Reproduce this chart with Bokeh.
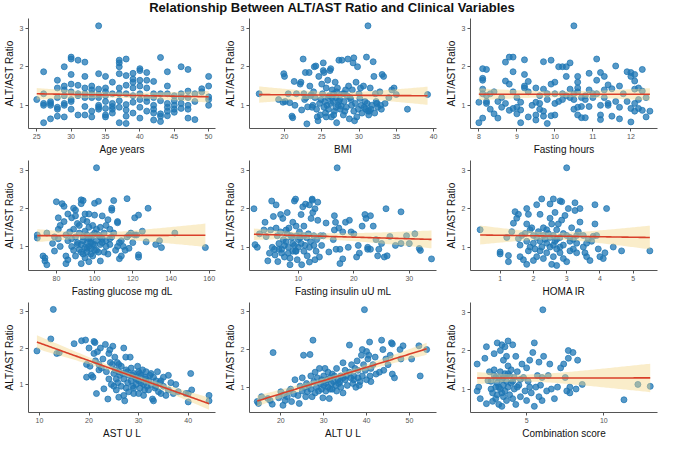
import numpy as np
from bokeh.plotting import figure
from bokeh.layouts import gridplot, column
from bokeh.models import Div, FixedTicker
from bokeh.embed import file_html
from bokeh.resources import INLINE

# ---- data (x, ALT/AST ratio) ----
age_x = [25, 26, 26, 26, 26, 26, 27, 27, 27, 27, 28, 28, 28, 28, 28, 28, 29, 29, 29, 29, 29, 29, 29,
         30, 30, 30, 30, 30, 30, 30, 30, 31, 31, 31, 31, 31, 32, 32, 32, 32, 32, 32, 32, 33, 33, 33, 33, 33, 33,
         34, 34, 34, 34, 34, 34, 34, 34, 35, 35, 35, 35, 35, 35, 35, 35, 36, 36, 36, 36, 36, 36,
         37, 37, 37, 37, 37, 37, 37, 37, 37, 38, 38, 38, 38, 38, 38, 38, 38, 39, 39, 39, 39, 39, 39, 39,
         40, 40, 40, 40, 40, 40, 40, 40, 41, 41, 41, 41, 41, 41, 42, 42, 42, 42, 42, 42, 42,
         43, 43, 43, 43, 43, 43, 44, 44, 44, 44, 44, 44, 44, 45, 45, 45, 45, 45, 46, 46, 46, 46, 46,
         47, 47, 47, 47, 47, 47, 48, 48, 48, 49, 49, 50, 50, 50, 50, 50]
age_y = [1.15, 1.87, 1.3, 1.05, 1.0, 0.55, 1.1, 1.05, 1.0, 0.65, 1.65, 1.45, 1.2, 0.95, 0.9, 0.72,
         2.0, 1.5, 1.4, 1.25, 1.05, 1.0, 0.7, 2.25, 2.2, 1.8, 1.55, 1.35, 1.15, 1.1, 0.9,
         2.17, 1.52, 1.3, 1.25, 0.75, 2.12, 1.75, 1.45, 1.3, 1.2, 0.97, 0.75, 1.5, 1.4, 1.3, 1.2, 0.85, 0.7,
         3.06, 1.82, 1.42, 1.28, 1.2, 1.0, 0.95, 0.9, 1.75, 1.45, 1.35, 1.25, 1.1, 0.92, 0.75, 0.7,
         1.6, 1.3, 1.05, 0.97, 0.9, 0.8, 2.17, 2.1, 2.0, 1.82, 1.45, 1.3, 1.12, 0.95, 0.55,
         2.2, 1.77, 1.52, 1.3, 1.02, 0.88, 0.72, 0.53, 1.83, 1.68, 1.6, 1.45, 1.25, 1.08, 0.8,
         1.95, 1.9, 1.65, 1.5, 1.3, 1.15, 0.95, 0.67, 1.85, 1.65, 1.45, 1.2, 1.1, 0.85,
         1.62, 1.3, 1.2, 1.0, 0.9, 0.8, 0.62, 2.24, 1.3, 1.12, 0.78, 0.72, 0.58,
         1.87, 1.5, 1.3, 1.05, 0.95, 0.85, 0.73, 1.25, 1.12, 1.0, 0.9, 0.82, 2.0, 1.3, 1.2, 1.05, 0.92,
         1.93, 1.37, 1.2, 1.0, 0.9, 0.67, 1.3, 1.1, 0.63, 1.43, 1.35, 1.75, 1.5, 1.22, 1.15, 1.0]

bmi_x = [16.6, 19.2, 19.8, 19.9, 20.0, 20.1, 20.5, 20.7, 21.0, 21.1, 21.3, 21.4, 21.6, 22.1, 22.2, 22.3,
         22.5, 22.6, 22.8, 22.9, 23.0, 23.1, 23.3, 23.4, 23.5, 23.6, 23.8, 23.9, 24.0, 24.2, 24.3, 24.4,
         24.5, 24.6, 24.7, 24.8, 25.0, 25.1, 25.2, 25.2, 25.3, 25.4, 25.5, 25.6, 25.7, 25.8, 25.9, 26.0,
         26.1, 26.2, 26.3, 26.4, 26.5, 26.6, 26.7, 26.8, 26.9, 27.0, 27.1, 27.2, 27.3, 27.4, 27.5, 27.7,
         27.8, 27.9, 28.0, 28.2, 28.3, 28.5, 28.6, 28.7, 28.8, 29.0, 29.1, 29.2, 29.3, 29.4, 29.5, 29.6,
         29.8, 29.9, 30.0, 30.2, 30.4, 30.6, 30.8, 31.0, 31.1, 31.2, 31.3, 31.5, 31.7, 31.9, 32.0, 32.2,
         32.5, 32.8, 33.0, 33.1, 33.3, 33.5, 34.0, 34.4, 34.7, 35.0, 36.5, 39.2,
         25.3, 25.8, 26.2, 26.6, 27.0, 27.6, 28.1, 28.9, 29.7, 30.3, 30.9, 26.4, 27.3, 28.4, 29.3, 25.6,
         24.9, 26.9, 28.0, 30.1, 31.4, 32.3, 24.1, 22.7, 23.7,
         31.2, 31.6, 32.1, 32.4, 30.7, 32.9]
bmi_y = [1.3, 1.15, 1.08, 1.82, 1.75, 1.1, 1.3, 1.07, 0.72, 0.68, 1.62, 1.0, 1.3, 1.55, 1.6, 0.88,
         2.2, 1.3, 1.85, 1.2, 0.52, 0.96, 1.85, 1.5, 1.25, 1.28, 1.0, 1.35, 2.0, 2.02, 0.9, 0.7,
         0.6, 1.75, 1.05, 0.75, 1.55, 1.3, 1.9, 2.1, 1.85, 1.1, 0.8, 1.45, 1.0, 1.65, 0.9, 1.25,
         1.9, 1.95, 0.7, 1.4, 1.1, 1.3, 0.85, 1.6, 1.2, 0.55, 1.45, 1.0, 2.17, 1.15, 0.9, 2.17,
         1.3, 0.75, 1.1, 1.4, 0.95, 2.2, 1.5, 0.65, 1.2, 1.0, 1.4, 2.1, 2.23, 0.6, 1.05, 1.6,
         2.0, 0.9, 1.3, 1.45, 0.8, 1.5, 1.1, 2.25, 1.05, 3.06, 0.75, 1.45, 1.0, 2.13, 1.75, 1.3,
         0.95, 1.35, 0.9, 1.8, 1.75, 1.05, 1.2, 1.4, 1.45, 1.28, 0.9, 1.28,
         0.95, 1.2, 1.05, 0.75, 1.35, 0.98, 0.85, 1.15, 0.7, 1.0, 0.9, 1.2, 1.1, 1.25, 0.85, 0.7,
         1.15, 0.95, 1.3, 1.18, 0.85, 1.1, 1.2, 1.15, 0.95,
         0.85, 0.9, 0.8, 1.05, 0.95, 1.0]

hours_x = [8.0, 8.0, 8.1, 8.1, 8.1, 8.1, 8.1, 8.1, 8.2, 8.2, 8.2, 8.2, 8.3, 8.3, 8.4, 8.4, 8.5, 8.6, 8.6,
           8.7, 8.7, 8.7, 8.8, 8.8, 8.8, 8.9, 8.9, 8.9, 8.9, 9.0, 9.0, 9.1, 9.1, 9.1, 9.2, 9.2, 9.2, 9.2,
           9.3, 9.3, 9.3, 9.5, 9.5, 9.5, 9.5, 9.6, 9.6, 9.7, 9.7, 9.7, 9.7, 9.8, 9.8, 9.9, 9.9, 9.9,
           10.0, 10.0, 10.0, 10.0, 10.1, 10.1, 10.2, 10.2, 10.3, 10.3, 10.3, 10.4, 10.4, 10.5, 10.5, 10.5, 10.5,
           10.6, 10.6, 10.6, 10.6, 10.6, 10.6, 10.7, 10.7, 10.7, 10.8, 10.8, 10.9, 10.9, 10.9, 11.0,
           11.1, 11.1, 11.1, 11.2, 11.2, 11.2, 11.2, 11.3, 11.3, 11.3, 11.4, 11.4, 11.5, 11.5, 11.6, 11.6,
           11.7, 11.7, 11.7, 11.9, 11.9, 12.0, 12.0, 12.0, 12.0, 12.1, 12.1, 12.1, 12.1, 12.1, 12.2, 12.2,
           12.3, 12.3, 12.3, 12.4, 12.4, 12.5,
           8.5, 9.0, 9.4, 9.8, 10.2, 10.8, 11.4, 11.8, 12.2, 9.6, 10.4, 11.0]
hours_y = [0.55, 1.08, 1.95, 1.7, 1.65, 1.42, 1.3, 0.67, 1.93, 1.25, 1.05, 1.1, 1.3, 0.9, 1.35, 0.78,
           0.67, 1.2, 0.95, 2.12, 1.63, 1.05, 2.25, 1.55, 0.87, 2.25, 1.87, 1.35, 0.92, 0.95, 0.78,
           1.08, 0.55, 0.88, 2.18, 1.8, 1.5, 1.45, 1.35, 1.62, 0.7, 1.45, 1.08, 0.62, 0.75, 1.25, 0.9,
           2.13, 1.42, 0.85, 0.72, 1.15, 0.53, 2.17, 1.55, 0.73, 1.6, 1.3, 1.05, 0.75, 2.0, 1.1,
           2.0, 1.3, 2.0, 1.75, 1.25, 2.1, 1.42, 3.06, 1.3, 1.15, 0.9, 1.75, 1.6, 1.45, 1.35, 0.95, 0.75,
           1.2, 0.97, 0.68, 1.15, 0.68, 1.83, 1.4, 0.97, 1.2, 2.2, 1.65, 1.3, 1.85, 1.0, 0.75, 0.63,
           1.75, 1.4, 1.2, 1.53, 1.05, 1.43, 0.72, 2.02, 1.1, 1.5, 0.95, 0.65, 1.87, 1.1,
           1.85, 1.75, 0.92, 0.57, 1.8, 1.63, 1.42, 1.05, 0.85, 1.45, 0.92, 1.93, 1.37, 0.87, 1.2, 0.7, 0.85,
           1.1, 1.2, 1.0, 1.3, 1.15, 1.25, 1.0, 1.3, 1.15, 1.05, 1.2, 1.3]

glucose_x = [70, 70, 73, 74, 74, 75, 75, 78, 79, 79, 80, 81, 81, 81, 82, 82, 83, 84, 84, 85, 85, 85,
             86, 86, 86, 87, 88, 88, 89, 89, 89, 90, 90, 90, 90, 91, 91, 92, 92, 92, 93, 93, 93, 93,
             94, 94, 94, 94, 95, 95, 95, 95, 96, 96, 96, 96, 97, 97, 97, 97, 98, 98, 98, 99, 99, 99, 99,
             100, 100, 100, 100, 101, 101, 101, 102, 102, 102, 103, 103, 103, 104, 104, 105, 105, 106, 106,
             107, 107, 108, 108, 109, 109, 109, 110, 110, 111, 112, 112, 113, 113, 114, 114, 115, 116,
             117, 117, 118, 118, 119, 120, 121, 121, 122, 123, 123, 123, 125, 127, 128, 132, 134, 135, 142, 158,
             88, 91, 94, 96, 98, 100, 103, 106, 93, 97, 101, 104, 108, 112]
glucose_y = [1.3, 1.22, 0.75, 0.7, 0.62, 0.52, 1.35, 1.08, 0.88, 1.25, 2.17, 1.75, 1.45, 1.2, 1.55, 1.0,
             2.12, 2.05, 1.65, 1.3, 0.75, 0.55, 1.85, 1.15, 0.65, 1.38, 1.75, 1.0, 2.0, 1.45, 0.9,
             1.95, 1.8, 1.25, 0.75, 1.6, 1.1, 1.55, 1.35, 0.92, 2.22, 2.12, 0.55, 1.05,
             2.2, 1.7, 1.25, 0.8, 1.85, 1.4, 0.97, 0.7, 1.65, 1.3, 1.1, 0.85, 1.85, 1.5, 1.2, 0.6,
             1.2, 0.95, 0.8, 1.55, 1.3, 1.05, 0.75, 2.13, 1.82, 1.35, 0.9, 3.06, 1.45, 1.15,
             2.18, 1.3, 0.85, 1.5, 1.05, 0.62, 1.8, 1.2, 1.35, 0.85, 1.55, 1.0, 1.7, 0.8, 1.45, 1.05,
             1.95, 2.0, 1.25, 2.2, 1.35, 0.9, 1.62, 1.65, 1.1, 0.68, 1.15, 0.75, 1.0, 0.9,
             2.25, 1.25, 1.3, 0.95, 1.35, 1.1, 1.75, 1.3, 1.3, 1.82, 0.78, 0.72, 1.4, 1.12, 2.0,
             1.05, 1.15, 0.97, 1.35, 0.97,
             1.2, 1.05, 1.15, 0.95, 1.1, 1.05, 1.25, 1.15, 0.85, 1.0, 0.9, 1.1, 1.2, 1.0]

insulin_x = [2.0, 2.2, 2.6, 3.0, 3.8, 4.0, 4.2, 4.5, 4.8, 5.0, 5.2, 5.3, 5.5, 5.7, 6.0, 6.0, 6.2, 6.3, 6.5,
             6.8, 6.8, 7.0, 7.2, 7.3, 7.5, 7.5, 7.8, 8.0, 8.0, 8.2, 8.3, 8.5, 8.5, 8.8, 9.0, 9.0, 9.0, 9.3,
             9.5, 9.6, 9.7, 9.8, 10.0, 10.0, 10.2, 10.5, 10.5, 10.6, 10.8, 11.0, 11.0, 11.0, 11.3, 11.5, 11.6,
             11.8, 12.0, 12.0, 12.0, 12.3, 12.5, 12.5, 12.6, 12.8, 12.8, 13.0, 13.0, 13.3, 13.5, 13.5, 13.8,
             14.0, 14.2, 15.0, 15.5, 16.3, 16.5, 16.5, 16.7, 16.8, 17.0, 17.3, 17.5, 17.5, 18.0, 18.0, 18.5,
             19.0, 19.2, 19.5, 20.0, 20.5, 20.8, 21.0, 21.5, 22.0, 22.2, 22.5, 22.5, 23.0, 23.0, 23.5, 24.0,
             24.3, 24.5, 25.0, 25.5, 25.8, 26.0, 26.5, 27.5, 28.5, 28.5, 29.5, 30.0, 31.0, 31.8, 32.0, 34.0,
             6.5, 7.8, 8.7, 9.3, 9.6, 10.3, 11.2, 12.2, 13.2, 14.5, 5.8, 7.0, 8.2, 9.5]
insulin_y = [2.0, 1.07, 1.0, 1.35, 1.45, 1.65, 1.28, 0.65, 0.85, 1.45, 2.2, 1.0, 1.8, 0.95, 2.1, 1.5, 1.3,
             0.63, 1.1, 1.85, 1.4, 0.85, 1.75, 1.2, 1.05, 0.75, 1.45, 1.9, 1.35, 1.0, 1.5, 0.72, 0.55,
             1.25, 1.65, 1.1, 0.9, 2.2, 2.25, 1.55, 1.3, 0.68, 1.2, 1.0, 1.4, 1.85, 1.1, 0.55, 2.05,
             1.55, 1.3, 0.9, 2.12, 1.25, 0.78, 1.35, 2.1, 1.0, 0.62, 1.75, 2.22, 2.25, 1.9, 1.3, 1.05,
             2.0, 0.68, 1.2, 2.17, 1.7, 0.75, 1.3, 1.05, 1.63, 0.88, 1.2, 1.82, 1.45, 1.65, 0.95, 3.06,
             1.5, 0.58, 0.95, 1.4, 0.7, 1.65, 1.0, 1.7, 1.4, 1.35, 0.75, 1.05, 0.85, 1.55, 1.85, 1.75,
             1.0, 0.95, 1.82, 0.95, 1.55, 1.2, 0.78, 0.95, 1.1, 0.75, 2.0, 0.78, 1.28, 1.05, 1.92, 1.1,
             1.3, 1.1, 1.35, 0.97, 0.92, 0.7,
             0.95, 1.15, 1.3, 1.05, 0.9, 1.25, 1.05, 1.15, 0.9, 1.3, 0.8, 0.95, 0.85, 0.9]

homa_x = [0.4, 1.0, 1.0, 1.2, 1.25, 1.25, 1.35, 1.4, 1.45, 1.5, 1.55, 1.55, 1.6, 1.6, 1.65, 1.7, 1.75,
          1.8, 1.8, 1.8, 1.8, 1.85, 1.85, 1.9, 1.9, 1.95, 2.0, 2.0, 2.05, 2.1, 2.1, 2.1, 2.15, 2.2, 2.2,
          2.25, 2.25, 2.3, 2.3, 2.35, 2.4, 2.4, 2.45, 2.5, 2.5, 2.5, 2.55, 2.55, 2.6, 2.6, 2.6, 2.65, 2.65,
          2.7, 2.7, 2.7, 2.75, 2.8, 2.8, 2.8, 2.85, 2.85, 2.9, 2.9, 2.95, 3.0, 3.0, 3.0, 3.05, 3.1, 3.1,
          3.15, 3.2, 3.25, 3.25, 3.3, 3.3, 3.35, 3.4, 3.4, 3.5, 3.55, 3.6, 3.65, 3.7, 3.75, 3.8, 3.85,
          3.85, 3.9, 3.95, 4.0, 4.1, 4.15, 4.2, 4.4, 4.65, 5.5,
          2.3, 2.4, 2.5, 2.6, 2.7, 2.8, 2.9, 3.1, 3.2, 3.3, 2.0, 2.2, 3.5, 3.6]
homa_y = [1.45, 0.87, 0.82, 1.25, 0.78, 0.62, 1.4, 1.62, 1.92, 1.75, 1.85, 1.22, 1.05, 0.75, 1.3, 0.67,
          1.35, 2.0, 1.6, 1.15, 0.55, 1.85, 0.9, 1.45, 1.0, 1.5, 0.65, 1.1, 0.95, 2.1, 1.25, 0.75, 1.4,
          1.85, 0.9, 2.25, 1.0, 1.5, 0.7, 1.2, 1.1, 0.85, 1.35, 2.12, 1.75, 1.0, 1.6, 0.55, 2.25, 1.3,
          0.75, 1.9, 1.15, 1.45, 0.95, 0.52, 1.6, 2.2, 1.25, 0.85, 1.7, 2.18, 1.05, 0.7, 1.82, 3.06,
          1.3, 0.62, 2.0, 1.15, 0.9, 1.5, 1.2, 1.95, 2.15, 1.1, 0.85, 1.4, 2.0, 1.65, 1.0, 0.85, 0.75,
          1.2, 0.65, 1.15, 1.28, 1.6, 2.1, 1.3, 0.95, 0.75, 0.7, 0.85, 2.0, 1.0, 0.9, 0.9,
          1.3, 1.45, 1.25, 1.05, 1.2, 1.0, 1.35, 1.25, 0.95, 1.3, 1.3, 1.15, 1.3, 1.1]

ast_x = [9.5, 12.3, 12.8, 13.5, 14.0, 17.0, 18.5, 19.3, 19.5, 19.5, 20.0, 20.2, 20.5, 20.8, 21.0, 21.0,
         21.2, 21.3, 21.5, 21.7, 22.0, 22.0, 22.3, 22.5, 22.8, 23.0, 23.3, 23.5, 23.8, 24.0, 24.0, 24.2,
         24.3, 24.5, 24.7, 24.8, 25.0, 25.0, 25.2, 25.3, 25.5, 25.5, 25.7, 25.8, 26.0, 26.0, 26.2, 26.5,
         26.5, 26.8, 27.0, 27.0, 27.0, 27.2, 27.4, 27.5, 27.5, 27.8, 28.0, 28.0, 28.3, 28.5, 28.5, 28.8,
         29.0, 29.0, 29.3, 29.5, 29.8, 30.0, 30.0, 30.0, 30.3, 30.5, 30.8, 31.0, 31.0, 31.3, 31.5, 31.7,
         32.0, 32.0, 32.3, 32.5, 32.8, 33.0, 33.0, 33.3, 33.5, 33.8, 34.0, 34.3, 34.5, 35.0, 35.0, 35.5,
         36.0, 36.0, 36.5, 37.0, 37.5, 38.0, 39.5, 40.0, 40.0, 40.5, 40.7, 44.2, 44.2,
         26.0, 27.8, 28.8, 29.5, 30.5, 31.5, 32.5, 33.5, 34.5, 29.0, 30.2, 31.2]
ast_y = [1.92, 2.25, 3.06, 1.85, 1.87, 2.12, 2.2, 2.22, 1.55, 1.2, 2.0, 1.5, 1.25, 1.2, 2.18, 1.85,
         2.15, 1.65, 0.75, 1.9, 1.4, 1.55, 2.0, 1.45, 1.7, 0.88, 2.1, 1.35, 0.6, 1.85, 1.15, 1.95,
         1.6, 1.0, 1.55, 2.05, 1.3, 0.95, 1.75, 1.4, 1.15, 0.85, 1.6, 1.05, 1.35, 0.65, 1.25, 1.5,
         0.95, 1.3, 2.0, 1.15, 0.7, 0.55, 1.75, 1.4, 0.9, 1.05, 1.25, 0.8, 1.75, 1.45, 1.1, 0.95,
         1.3, 0.75, 1.2, 1.0, 1.5, 1.35, 1.1, 0.75, 0.9, 1.25, 1.4, 1.0, 0.7, 1.2, 1.35, 0.95,
         1.1, 0.85, 1.25, 1.0, 0.6, 1.2, 0.55, 0.9, 1.1, 1.35, 0.8, 1.05, 0.75, 1.2, 0.95, 0.7,
         1.25, 0.85, 1.05, 0.75, 1.0, 0.8, 0.75, 0.52, 0.75, 1.3, 0.85, 0.7, 0.55,
         1.55, 1.35, 1.25, 1.15, 1.05, 1.15, 1.3, 0.95, 1.1, 0.9, 1.3, 0.85]

alt_x = [14.5, 14.8, 15.5, 17.0, 17.5, 18.0, 18.2, 19.5, 20.0, 20.5, 20.8, 21.0, 21.5, 22.0, 22.3, 22.5,
         23.0, 23.3, 24.0, 24.3, 24.5, 25.0, 25.0, 25.3, 25.5, 25.8, 26.0, 26.2, 26.5, 26.8, 27.0, 27.0,
         27.3, 27.5, 27.7, 28.0, 28.0, 28.3, 28.5, 28.8, 29.0, 29.2, 29.5, 29.8, 30.0, 30.0, 30.3, 30.5,
         30.8, 31.0, 31.0, 31.3, 31.5, 31.8, 32.0, 32.0, 32.3, 32.5, 32.8, 33.0, 33.0, 33.3, 33.5, 34.0,
         34.0, 34.5, 34.5, 35.0, 35.0, 35.5, 36.0, 36.0, 36.3, 36.5, 36.8, 37.0, 37.3, 37.5, 37.8, 38.0,
         38.0, 38.5, 38.8, 39.0, 39.0, 39.3, 39.5, 39.7, 40.0, 40.0, 40.3, 40.5, 40.7, 40.8, 41.0, 41.0,
         41.5, 42.0, 42.2, 43.0, 43.5, 43.8, 44.0, 44.5, 45.0, 45.5, 45.8, 46.0, 46.0, 46.5, 47.8, 48.0,
         48.5, 50.5, 52.2, 52.5, 54.0,
         33.8, 35.3, 37.0, 38.3, 31.5, 30.5, 29.5, 34.5]
alt_y = [0.62, 0.57, 0.75, 0.7, 0.65, 0.55, 1.92, 0.72, 0.88, 0.52, 0.8, 0.65, 0.75, 0.9, 0.95, 0.62,
         0.82, 1.2, 0.78, 0.57, 1.03, 1.25, 0.9, 1.85, 1.0, 0.75, 1.1, 0.88, 1.05, 1.87, 1.3, 0.95,
         0.75, 2.25, 1.15, 1.4, 0.85, 1.0, 1.25, 0.9, 1.5, 1.1, 0.95, 0.72, 1.3, 1.05, 1.5, 0.9,
         1.2, 1.4, 1.0, 0.7, 1.25, 1.1, 1.35, 0.95, 1.15, 1.3, 1.05, 1.5, 0.9, 1.2, 1.1, 1.3,
         1.0, 1.65, 0.85, 1.2, 1.45, 1.05, 2.12, 1.4, 1.25, 1.6, 1.1, 1.3, 1.5, 1.0, 1.7, 1.25,
         1.45, 1.15, 1.85, 2.0, 1.3, 1.6, 3.06, 1.45, 1.95, 1.2, 1.75, 1.85, 2.2, 1.3, 1.5, 1.15,
         1.6, 1.8, 1.35, 1.4, 2.25, 2.0, 1.45, 1.75, 1.6, 1.85, 2.18, 2.15, 1.35, 1.25, 2.0, 1.75,
         2.1, 1.75, 2.1, 1.3, 2.0,
         1.15, 1.3, 1.2, 1.05, 0.95, 1.1, 1.2, 1.25]

combo_x = [1.8, 1.8, 1.9, 2.0, 2.3, 2.4, 2.4, 2.5, 2.6, 2.7, 2.8, 2.8, 2.9, 2.9, 2.9, 3.0, 3.0, 3.1, 3.1,
           3.1, 3.2, 3.2, 3.3, 3.3, 3.3, 3.4, 3.4, 3.4, 3.5, 3.5, 3.5, 3.6, 3.6, 3.6, 3.7, 3.7, 3.7, 3.8,
           3.8, 3.8, 3.9, 3.9, 4.0, 4.0, 4.1, 4.1, 4.2, 4.2, 4.3, 4.3, 4.4, 4.5, 4.6, 4.7, 4.8, 4.9, 5.0,
           5.0, 5.1, 5.2, 5.3, 5.4, 5.5, 5.5, 5.6, 5.7, 5.8, 5.8, 5.9, 6.0, 6.0, 6.1, 6.3, 6.4, 6.5, 6.6,
           6.8, 7.0, 7.2, 7.4, 7.5, 7.6, 7.7, 7.7, 7.8, 7.8, 8.0, 8.2, 8.3, 8.6, 11.3, 12.2, 13.0, 6.05,
           3.2, 3.5, 3.8, 4.1, 4.4, 3.0, 2.7, 4.6, 5.2, 3.4]
combo_y = [1.65, 0.95, 1.05, 0.75, 1.8, 2.1, 0.62, 1.22, 1.45, 1.2, 0.9, 0.68, 1.92, 1.35, 1.5, 1.05,
           0.75, 2.2, 1.15, 0.85, 1.3, 0.6, 2.0, 1.45, 1.0, 2.15, 1.25, 0.55, 1.75, 1.1, 0.8, 2.1, 1.4,
           0.95, 1.85, 1.2, 0.7, 2.25, 1.6, 1.05, 1.35, 0.85, 1.5, 1.15, 2.15, 0.75, 1.3, 1.0, 1.85,
           0.6, 1.45, 1.1, 0.8, 1.65, 1.3, 0.95, 1.55, 0.7, 1.2, 1.75, 0.9, 1.95, 2.2, 0.55, 1.05,
           1.35, 0.8, 1.7, 1.1, 1.3, 0.7, 1.85, 0.95, 1.35, 1.65, 1.0, 0.75, 1.05, 1.55, 1.65, 1.3,
           0.95, 2.0, 1.8, 1.05, 0.9, 1.95, 1.0, 1.75, 1.12, 0.72, 1.12, 1.07, 3.06,
           1.05, 1.3, 1.4, 1.2, 1.05, 1.3, 1.0, 1.25, 1.05, 0.9]

panels = [
    ("Age years", age_x, age_y, (23.8, 51.0), [25, 30, 35, 40, 45, 50], (0.4, 3.25)),
    ("BMI", bmi_x, bmi_y, (15.3, 40.4), [20, 25, 30, 35, 40], (0.4, 3.25)),
    ("Fasting hours", hours_x, hours_y, (7.78, 12.7), [8, 9, 10, 11, 12], (0.4, 3.25)),
    ("Fasting glucose mg dL", glucose_x, glucose_y, (65.4, 163.3), [80, 100, 120, 140, 160], (0.37, 3.25)),
    ("Fasting insulin uU mL", insulin_x, insulin_y, (1.2, 34.9), [10, 20, 30], (0.4, 3.25)),
    ("HOMA IR", homa_x, homa_y, (0.11, 5.73), [1, 2, 3, 4, 5], (0.39, 3.25)),
    ("AST U L", ast_x, ast_y, (7.8, 45.5), [10, 20, 30, 40], (0.23, 3.25)),
    ("ALT U L", alt_x, alt_y, (12.7, 56.3), [20, 30, 40, 50], (0.33, 3.25)),
    ("Combination score", combo_x, combo_y, (1.37, 13.47), [5, 10], (0.39, 3.25)),
]

FONT = "Liberation Sans"
figs = []
for label, xs, ys, xr, xticks, yr in panels:
    x = np.array(xs, dtype=float)
    y = np.array(ys, dtype=float)

    p = figure(width=221, height=142, x_range=xr, y_range=yr, output_backend="svg",
               toolbar_location=None, tools="", min_border_left=4, min_border_right=6,
               min_border_top=3, min_border_bottom=2)
    p.outline_line_color = None
    p.grid.grid_line_color = None

    # scatter first, band over it (gives the greenish tint), then fit line
    p.scatter(x, y, size=6, fill_color="#1f77b4", fill_alpha=0.75,
              line_color="#1f77b4", line_alpha=0.75)

    # linear fit with 95% confidence band
    slope, icpt = np.polyfit(x, y, 1)
    n = len(x)
    resid = y - (slope * x + icpt)
    s = np.sqrt(np.sum(resid ** 2) / (n - 2))
    sxx = np.sum((x - x.mean()) ** 2)
    gx = np.linspace(x.min(), x.max(), 100)
    gy = slope * gx + icpt
    half = 1.97 * s * np.sqrt(1.0 / n + (gx - x.mean()) ** 2 / sxx)
    p.varea(x=gx, y1=gy - half, y2=gy + half, fill_color="#f5d78a", fill_alpha=0.45)
    p.line(gx, gy, line_color="#d9402a", line_width=1.6)

    p.xaxis.ticker = FixedTicker(ticks=xticks)
    p.yaxis.ticker = FixedTicker(ticks=[1, 2, 3])
    p.xaxis.axis_label = label
    p.yaxis.axis_label = "ALT/AST Ratio"
    for ax in (p.xaxis, p.yaxis):
        ax.axis_label_text_font = FONT
        ax.axis_label_text_font_size = "10px"
        ax.axis_label_text_font_style = "normal"
        ax.axis_label_text_color = "#111111"
        ax.axis_label_standoff = 2
        ax.major_label_text_font = FONT
        ax.major_label_text_font_size = "7px"
        ax.major_label_text_color = "#555555"
        ax.major_label_standoff = 2
        ax.axis_line_color = "#555555"
        ax.major_tick_line_color = "#555555"
        ax.major_tick_in = 0
        ax.major_tick_out = 3
        ax.minor_tick_line_color = None
    figs.append(p)

title = Div(text="Relationship Between ALT/AST Ratio and Clinical Variables", width=664, height=15,
            margin=(0, 0, 0, 0),
            styles={"text-align": "center", "font-family": FONT, "font-size": "13px",
                    "font-weight": "bold", "color": "#111111", "width": "664px",
                    "line-height": "15px"})
grid = gridplot(figs, ncols=3, toolbar_location=None)
layout = column(title, grid)

open("out.html", "w").write(file_html(layout, INLINE))
